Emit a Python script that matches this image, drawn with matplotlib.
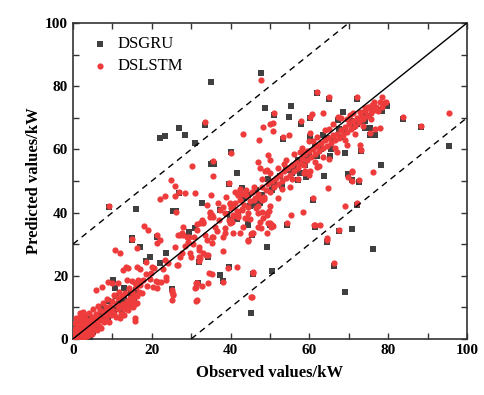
import numpy as np
import matplotlib.pyplot as plt
from matplotlib.ticker import MultipleLocator

plt.rcParams['font.family'] = ['Liberation Serif', 'DejaVu Serif']

# DSLSTM (red circles): observed, predicted
lstm_low = [
    (0.2, 0.5), (0.4, 1.5), (0.5, 3.0), (0.6, 0.2), (0.8, 2.2), (1.0, 4.5), (1.0, 0.8), (1.2, 1.8),
    (1.3, 3.5), (1.5, 5.5), (1.5, 0.3), (1.8, 2.6), (2.0, 1.2), (2.0, 4.0), (2.2, 6.5), (2.4, 2.0),
    (2.5, 3.2), (2.7, 0.6), (2.8, 5.0), (3.0, 1.8), (3.0, 7.5), (3.2, 3.8), (3.4, 2.5), (3.5, 6.0),
    (3.7, 1.2), (3.9, 4.5), (4.0, 8.2), (4.2, 3.0), (4.4, 5.5), (4.5, 2.0), (4.7, 7.0), (4.9, 4.0),
    (5.0, 9.5), (5.2, 3.2), (5.4, 6.2), (5.6, 4.8), (5.8, 8.0), (6.0, 2.8), (6.0, 5.5), (6.3, 10.5),
    (6.5, 7.0), (6.7, 4.2), (6.9, 9.0), (7.0, 6.0), (7.2, 3.5), (7.5, 8.5), (7.7, 11.5), (7.8, 5.5),
    (8.0, 7.5), (8.3, 10.0), (8.5, 6.5), (8.7, 12.5), (9.0, 8.5), (9.2, 5.2), (9.4, 10.5), (9.7, 7.5),
    (10.0, 12.0), (10.0, 9.0), (10.3, 14.0), (10.5, 8.0), (10.8, 11.0), (11.0, 6.8), (11.3, 12.8),
    (11.5, 9.5), (11.8, 15.0), (12.0, 10.5), (12.3, 8.0), (12.5, 13.5), (12.8, 11.2), (13.0, 9.5),
    (13.3, 14.5), (13.6, 12.0), (14.0, 10.5), (14.2, 16.0), (14.5, 13.0), (14.8, 11.5), (15.0, 15.0),
    (15.3, 12.5), (15.6, 14.0), (15.8, 11.0), (16.0, 16.5), (16.3, 13.5), (16.7, 15.0), (17.0, 17.0),
    (15.2, 10.1), (16.2, 11.4), (14.0, 9.0), (13.0, 7.5), (12.0, 6.5), (0.5, 5.0), (1.3, 6.6),
    (1.8, 8.2), (0.8, 6.5), (2.5, 8.5), (0.3, 2.2), (1.1, 2.9), (2.2, 0.4), (3.6, 0.9), (4.8, 1.5),
]

lstm_mid = [
    (9.2, 42.0), (26.1, 40.2), (18.0, 35.8), (19.0, 34.5), (15.0, 31.6), (10.7, 28.2), (11.9, 27.2),
    (16.2, 28.8), (21.3, 32.9), (22.1, 31.3), (21.3, 30.4), (18.5, 24.4), (23.4, 25.0), (20.0, 22.8),
    (20.6, 22.5), (13.5, 22.8), (14.0, 22.5), (12.7, 21.8), (16.2, 22.8), (17.0, 22.2), (23.6, 19.6),
    (23.6, 18.7), (21.6, 18.0), (20.3, 16.5), (21.3, 16.1), (25.1, 15.5), (25.4, 13.9), (25.1, 12.3),
    (15.7, 6.6), (15.7, 5.7), (5.8, 15.5), (7.4, 16.5), (9.9, 17.7), (11.4, 17.7), (13.7, 18.7),
    (14.9, 18.4), (15.7, 17.7), (16.5, 18.7), (17.8, 18.7), (8.9, 18.0), (22.3, 18.0), (21.0, 18.4),
    (27.2, 32.9), (27.7, 33.5), (28.9, 32.3), (29.2, 30.7), (31.5, 34.5), (32.2, 36.7), (33.0, 37.0),
    (34.0, 31.3), (35.3, 30.4), (35.5, 32.3), (32.0, 29.1), (32.0, 28.2), (32.0, 26.0), (32.0, 24.7),
    (29.7, 27.2), (27.2, 26.0), (27.6, 27.2), (26.4, 23.4), (34.3, 26.6), (37.3, 40.8), (38.0, 41.8),
    (34.8, 39.9), (34.8, 38.6), (36.8, 43.0), (39.8, 43.0), (40.6, 39.2), (39.8, 36.7), (38.6, 35.1),
    (40.6, 33.5), (42.4, 33.5), (43.1, 35.4), (38.0, 27.8), (39.3, 22.5), (41.6, 22.8), (34.5, 20.9),
    (31.5, 17.7), (31.0, 16.1), (31.5, 12.3), (34.3, 17.7), (38.0, 18.0), (25.9, 29.1), (26.6, 23.4),
    (25.1, 14.9), (25.4, 14.2), (31.2, 17.7), (31.2, 16.5), (32.7, 16.8), (35.3, 20.6),
    (45.7, 20.9), (45.2, 13.3), (31.2, 12.0), (44.4, 31.0), (45.2, 33.2), (45.7, 33.5), (49.2, 33.5),
    (32.2, 25.6), (33.0, 27.2), (33.8, 26.6), (30.0, 26.0), (27.9, 32.9), (29.4, 32.3), (30.7, 32.3),
    (35.3, 32.3), (38.0, 32.3), (38.6, 33.5), (26.6, 32.9), (24.8, 50.3), (25.9, 48.5), (25.9, 45.3),
    (26.9, 46.6), (28.4, 46.2), (31.0, 46.2), (23.4, 45.3), (22.1, 44.3), (35.0, 45.6), (39.6, 49.4),
    (41.0, 46.5), (42.5, 47.5), (43.0, 46.0), (30.2, 54.7), (35.6, 51.6), (35.6, 56.3), (33.5, 68.5),
    (43.1, 64.8), (40.0, 58.9), (34.0, 42.4), (35.5, 38.6), (34.8, 40.2), (35.3, 39.2), (38.8, 44.9),
    (39.8, 42.7), (40.4, 41.8), (42.4, 46.5), (41.9, 45.6), (43.7, 38.3), (44.2, 38.3), (47.0, 35.4),
    (48.2, 38.3), (49.5, 36.7), (50.3, 35.4), (41.9, 39.2), (47.0, 42.1), (49.2, 39.9), (49.7, 40.5),
    (32.7, 37.7), (33.0, 36.7), (31.5, 36.4), (27.9, 35.4), (40.4, 37.0), (42.9, 40.8), (48.5, 44.3),
    (19.5, 19.0), (18.5, 20.5), (17.5, 14.5), (18.8, 16.8), (19.8, 21.0), (22.8, 22.0), (24.0, 24.0),
    (28.5, 29.5), (30.5, 30.0), (36.0, 35.5), (37.0, 37.5), (36.5, 34.0), (33.5, 33.0),
]

lstm_band = [
    (38.5, 40.0), (39.5, 37.5), (40.0, 41.5), (40.5, 39.0), (41.0, 43.0), (41.5, 40.5), (42.0, 38.5),
    (42.5, 44.0), (43.0, 41.0), (43.5, 42.5), (44.0, 45.5), (44.5, 40.0), (45.0, 43.5), (45.5, 46.5),
    (46.0, 44.0), (46.5, 41.5), (47.0, 46.0), (47.5, 44.5), (48.0, 48.0), (48.5, 45.0), (49.0, 47.0),
    (49.5, 49.0), (50.0, 46.5), (50.5, 50.0), (51.0, 48.0), (51.5, 51.0), (52.0, 49.0), (52.5, 52.0),
    (53.0, 50.0), (53.5, 53.0), (54.0, 51.0), (54.5, 54.0), (55.0, 52.0), (55.5, 55.0), (56.0, 53.0),
    (56.5, 56.0), (57.0, 54.0), (57.5, 55.5), (58.0, 57.0), (58.5, 55.0), (59.0, 58.5), (59.5, 56.5),
    (60.0, 59.5), (60.5, 57.5), (61.0, 60.0), (61.5, 58.5), (62.0, 61.0), (62.5, 59.5), (63.0, 62.0),
    (63.5, 60.5), (64.0, 63.0), (64.5, 61.0), (65.0, 63.5), (65.5, 62.0), (66.0, 64.5), (66.5, 63.0),
    (67.0, 65.0), (67.5, 63.5), (68.0, 66.0), (68.5, 64.5), (69.0, 67.0), (69.5, 65.5), (70.0, 68.0),
    (70.5, 66.5), (71.0, 69.0), (71.5, 67.5), (72.0, 70.0), (72.5, 68.5), (73.0, 70.5), (73.5, 69.5),
    (74.0, 72.0), (74.5, 70.5), (75.0, 73.0), (75.5, 71.5), (76.0, 74.0), (76.5, 72.5), (77.0, 73.5),
    (77.5, 72.0), (78.0, 75.0), (78.5, 73.5), (79.0, 74.5), (56.0, 58.5), (58.0, 60.5), (60.0, 62.5),
    (62.0, 64.0), (64.0, 66.0), (66.0, 68.0), (68.0, 70.0), (54.0, 56.5), (52.0, 54.0), (50.0, 52.5),
    (48.0, 50.5), (46.0, 48.0), (44.0, 47.0), (42.0, 45.5), (55.0, 48.0), (57.0, 50.5), (60.0, 52.0),
    (62.0, 54.5), (65.0, 57.0), (67.0, 59.0), (45.0, 38.0), (47.0, 40.0), (50.0, 42.0), (52.0, 44.5),
    (70.3, 70.9), (72.8, 71.8), (74.1, 73.1), (74.9, 73.4), (53.0, 47.5), (55.5, 50.5), (58.5, 52.5),
    (61.5, 56.0), (63.5, 57.5), (66.5, 60.5), (69.0, 63.0), (71.5, 65.0), (73.5, 67.5), (75.5, 69.5),
    (53.5, 55.5), (57.5, 59.0), (61.0, 62.5), (65.0, 66.5), (69.5, 69.5), (71.0, 71.5), (76.5, 75.0),
]

lstm_high = [
    (47.7, 82.0), (51.0, 71.5), (50.8, 68.4), (50.8, 65.8), (48.2, 67.1), (57.9, 69.0), (60.2, 70.3),
    (60.7, 71.2), (61.9, 78.2), (65.0, 76.6), (63.5, 71.5), (72.1, 76.6), (78.4, 76.6), (79.4, 75.0),
    (83.8, 70.3), (88.3, 67.4), (95.4, 71.5), (47.2, 63.0), (53.3, 63.9), (54.8, 64.6), (60.2, 65.2),
    (67.3, 70.3), (50.0, 68.0), (49.5, 58.2), (50.0, 56.6), (47.0, 56.0), (49.2, 53.5), (48.7, 53.2),
    (47.5, 54.0), (58.4, 58.9), (59.4, 59.5), (62.4, 54.7), (58.9, 53.2), (60.2, 53.2), (76.6, 66.4),
    (77.9, 66.8), (75.4, 65.2), (72.8, 61.4), (73.1, 59.8), (69.5, 61.4), (76.1, 52.8), (70.8, 52.8),
    (69.8, 51.3), (72.6, 50.3), (64.7, 47.8), (60.9, 44.6), (69.0, 42.1), (72.1, 43.0), (50.0, 36.7),
    (49.2, 39.2), (48.0, 40.2), (55.3, 39.2), (58.4, 40.2), (54.3, 36.7), (61.2, 36.1), (62.7, 36.1),
    (64.5, 31.3), (67.5, 34.5), (66.2, 24.1), (45.7, 21.2), (45.4, 13.3), (44.4, 31.3), (45.4, 33.5),
    (47.5, 37.0), (47.7, 35.1), (44.4, 41.8), (46.2, 44.6), (48.0, 44.0), (64.5, 32.0), (50.5, 36.1),
    (50.8, 35.8), (61.4, 36.1), (70.8, 53.2), (70.8, 50.0),
]

# DSGRU (dark squares): observed, predicted
gru_low = [
    (0.3, 0.8), (0.7, 2.5), (1.2, 1.0), (1.8, 3.8), (2.3, 1.5), (2.9, 3.0), (3.3, 5.2), (4.3, 0.6),
    (4.6, 3.5), (5.5, 5.8), (6.2, 4.0), (6.8, 7.5), (7.6, 6.2), (8.2, 9.0), (8.8, 7.0), (9.5, 9.8),
    (10.4, 9.2), (10.7, 16.1), (10.2, 18.7), (11.6, 11.0), (12.4, 8.5), (12.9, 12.6), (13.8, 11.2),
    (14.6, 14.2), (15.4, 13.0), (16.1, 15.5), (2.0, 6.0), (1.0, 3.5), (5.0, 2.2), (3.8, 7.0),
    (7.0, 10.0), (9.0, 12.0), (11.0, 13.5), (13.0, 16.0),
]

gru_other = [
    (22.1, 63.6), (23.4, 64.2), (26.9, 66.8), (28.4, 64.6), (31.0, 62.0), (33.5, 67.7), (35.0, 81.3),
    (35.0, 55.4), (35.8, 55.4), (40.0, 59.2), (41.5, 52.6), (26.9, 46.2), (39.6, 49.0), (47.7, 84.2),
    (48.7, 73.1), (51.0, 71.0), (55.3, 73.7), (54.8, 70.3), (72.1, 75.8), (79.7, 73.7), (83.8, 69.5),
    (95.4, 61.1), (61.9, 77.8), (65.0, 76.0), (57.9, 68.0), (60.2, 69.9), (68.5, 71.8), (67.3, 69.3),
    (60.2, 63.9), (53.3, 63.2), (74.1, 66.8), (75.4, 66.8), (75.4, 64.6), (76.6, 64.6), (73.1, 59.5),
    (69.0, 58.9), (78.2, 55.1), (69.8, 52.2), (70.8, 50.3), (72.6, 49.8), (63.7, 51.6), (57.1, 50.3),
    (59.1, 51.3), (65.2, 57.9), (60.9, 44.0), (72.1, 42.5), (50.0, 36.2), (54.3, 36.1), (64.5, 30.8),
    (67.5, 34.0), (70.8, 34.8), (76.1, 28.5), (66.2, 23.1), (69.0, 14.9), (50.5, 21.5), (45.7, 20.6),
    (45.2, 8.2), (49.2, 29.1), (44.4, 37.0), (44.4, 36.2), (39.8, 37.7), (46.2, 42.4), (37.3, 40.8),
    (32.7, 43.0), (42.9, 47.8), (31.0, 35.1), (9.1, 41.8), (16.0, 41.1), (26.1, 40.5), (25.4, 40.5),
    (15.0, 32.0), (17.0, 29.1), (19.5, 26.0), (23.6, 27.2), (18.5, 24.7), (22.0, 24.0), (25.1, 15.8),
    (29.4, 33.9), (37.3, 20.2), (31.8, 17.7), (38.0, 18.3), (39.6, 22.8), (88.3, 67.0), (35.5, 55.7),
    (61.4, 35.4), (45.4, 32.9), (32.0, 24.2), (34.3, 26.0), (21.3, 32.4), (15.0, 31.2),
]

gru_band = [
    (39.0, 39.5), (40.5, 42.0), (42.0, 40.0), (43.5, 44.5), (45.0, 42.0), (46.5, 47.0), (48.0, 45.5),
    (49.5, 50.5), (51.0, 49.0), (52.5, 51.5), (54.0, 53.5), (55.5, 52.5), (57.0, 56.5), (58.5, 57.5),
    (60.0, 58.0), (61.5, 61.0), (63.0, 60.0), (64.5, 63.5), (66.0, 63.0), (67.5, 66.5), (69.0, 66.0),
    (70.5, 69.0), (72.0, 68.0), (73.5, 71.5), (75.0, 70.5), (76.5, 73.0), (77.2, 72.5), (78.5, 72.0),
    (62.0, 58.0), (59.0, 55.0), (56.0, 54.5), (53.0, 48.5), (50.5, 47.0), (47.5, 43.0), (65.5, 60.0),
    (68.0, 64.0), (71.0, 67.0), (74.0, 69.0), (44.5, 45.5), (41.5, 38.0), (57.5, 52.5), (63.5, 64.5),
]

lstm = np.array(lstm_low + lstm_mid + lstm_band + lstm_high)
gru = np.array(gru_low + gru_other + gru_band)

fig = plt.figure(figsize=(4.85, 3.95), dpi=100)
ax = fig.add_axes([0.1505, 0.142, 0.8125, 0.800])

ax.scatter(gru[:, 0], gru[:, 1], marker='s', s=14, color='#404040', linewidths=0,
           label='DSGRU', zorder=2)
ax.scatter(lstm[:, 0], lstm[:, 1], marker='o', s=20, color='#ee3b3b', linewidths=0,
           label='DSLSTM', zorder=3)

ax.plot([0, 100], [0, 100], color='black', lw=1.0, zorder=4)
ax.plot([0, 70], [30, 100], color='black', lw=1.0, dashes=(4.5, 3.5), zorder=4)
ax.plot([30, 100], [0, 70], color='black', lw=1.0, dashes=(4.5, 3.5), zorder=4)

ax.set_xlim(0, 100)
ax.set_ylim(0, 100)
ax.xaxis.set_major_locator(MultipleLocator(20))
ax.yaxis.set_major_locator(MultipleLocator(20))
ax.xaxis.set_minor_locator(MultipleLocator(10))
ax.yaxis.set_minor_locator(MultipleLocator(10))
ax.tick_params(which='both', direction='in', top=True, right=True, color='#333333')
ax.tick_params(which='major', length=4, width=1)
ax.tick_params(which='minor', length=4, width=1)
for lab in ax.get_xticklabels() + ax.get_yticklabels():
    lab.set_fontweight('bold')
    lab.set_fontsize(11)
for sp in ax.spines.values():
    sp.set_linewidth(1.2)
    sp.set_color('#333333')

ax.set_xlabel('Observed values/kW', fontsize=12, fontweight='bold', labelpad=6)
ax.set_ylabel('Predicted values/kW', fontsize=12, fontweight='bold', labelpad=2)

ax.legend(loc='upper left', frameon=False, fontsize=12, markerscale=1.0,
          handletextpad=0.3, handlelength=1.6, borderaxespad=0.4, labelspacing=0.35)

fig.savefig('out.png', dpi=100)
